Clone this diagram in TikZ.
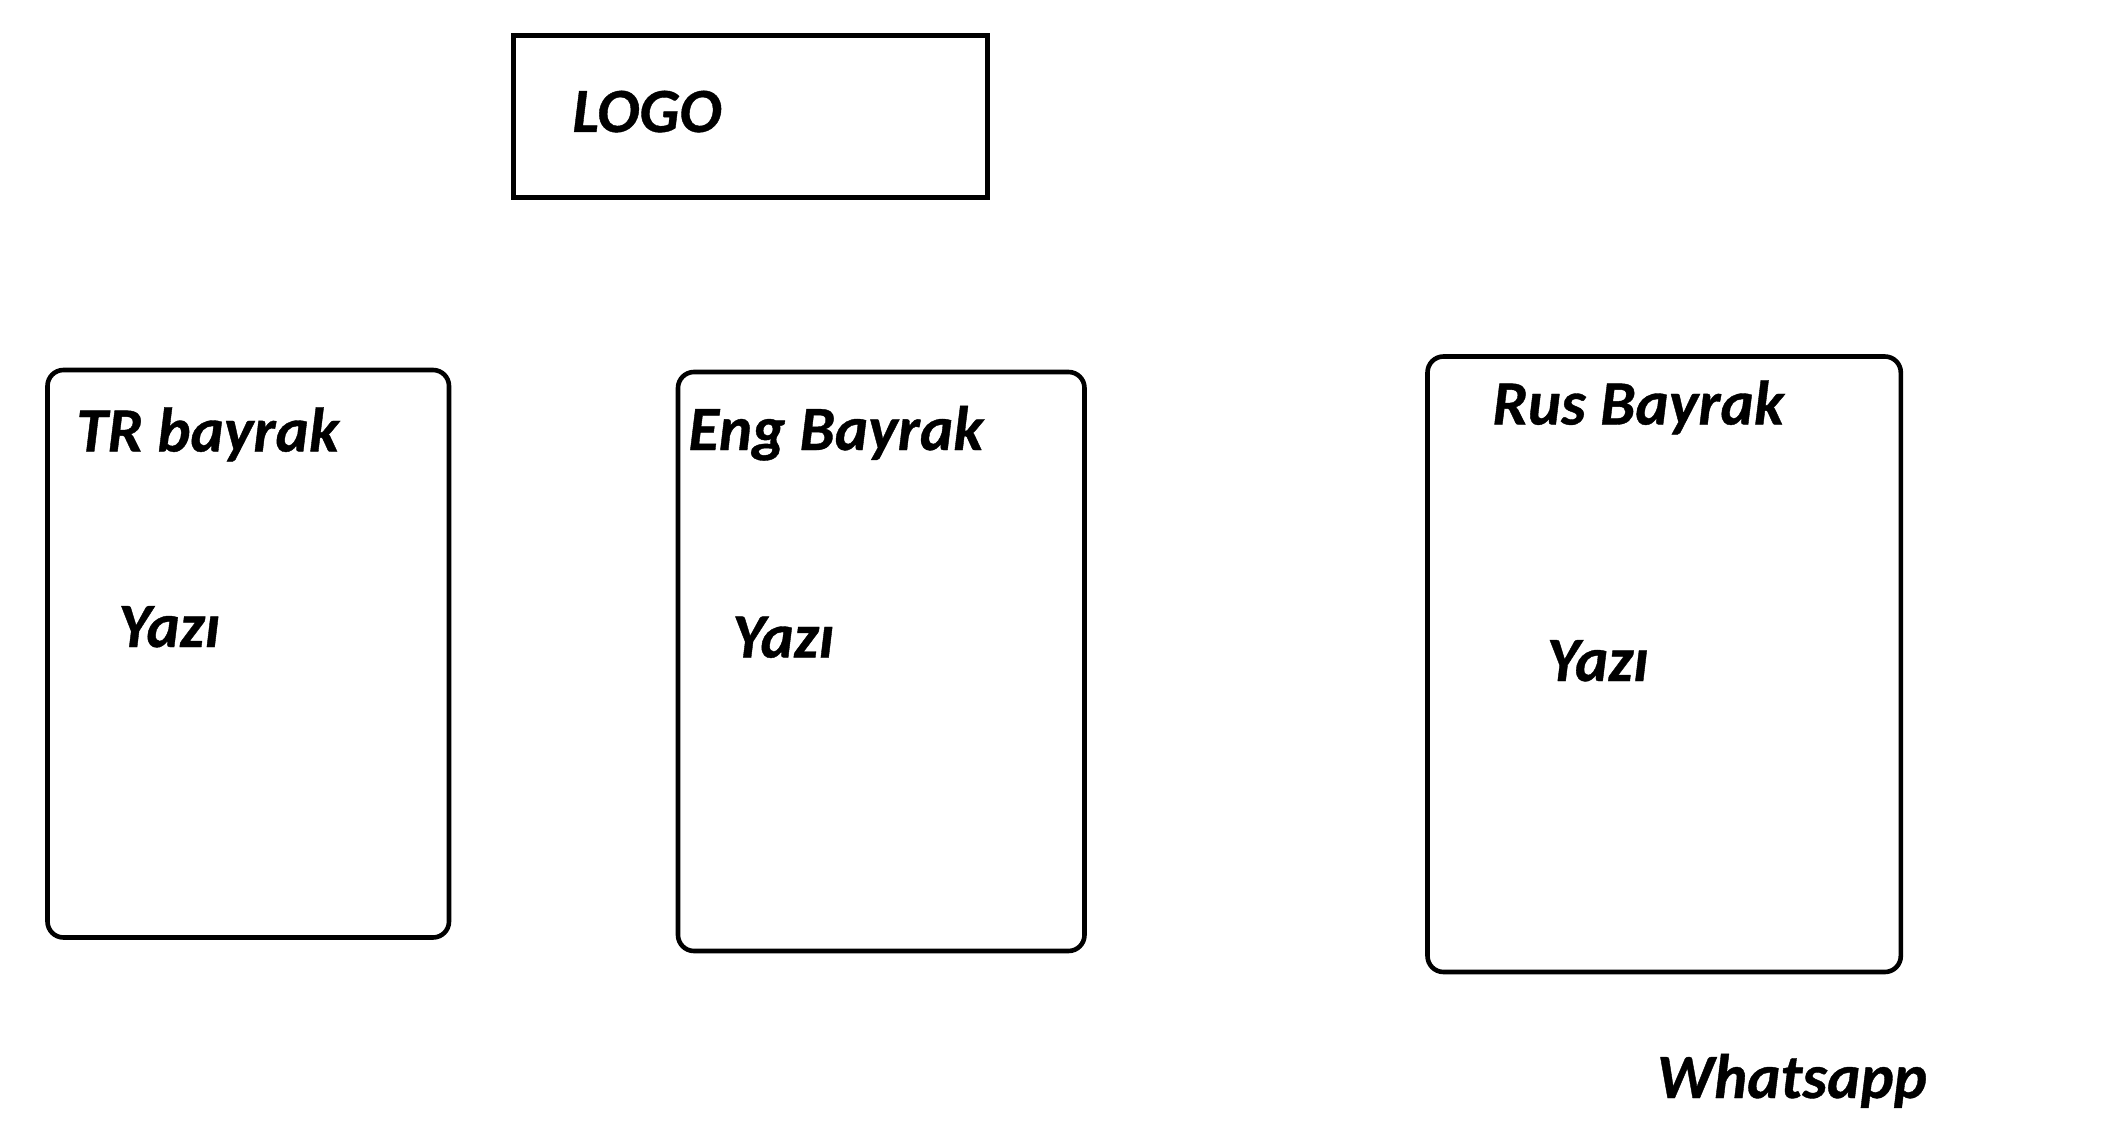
\documentclass[tikz,border=0pt]{standalone}
\usepackage{fontspec}
\setmainfont{Carlito}[BoldItalicFeatures={FakeBold=0.6}]
\tikzset{
  card/.style={line width=2.3pt, rounded corners=8pt},
  logobox/.style={line width=2.4pt},
  lbl/.style={anchor=base west, inner sep=0pt, font=\fontsize{31.5}{36}\selectfont\bfseries\itshape}
}
\begin{document}
\begin{tikzpicture}[x=0.5pt,y=-0.5pt]
    \useasboundingbox (0,0) rectangle (2115,1139);
    \coordinate (L1) at (513.5,35.5);
    \coordinate (L2) at (987.5,197.5);
    \coordinate (T1) at (47.5,370);
    \coordinate (T2) at (449,937.5);
    \coordinate (E1) at (678,372);
    \coordinate (E2) at (1084.5,951);
    \coordinate (R1) at (1427.5,356.5);
    \coordinate (R2) at (1900.8,972);
    \draw [logobox] (L1) rectangle (L2);
    \draw [card] (T1) rectangle (T2);
    \draw [card] (E1) rectangle (E2);
    \draw [card] (R1) rectangle (R2);
    \node [lbl] (logo)  at (572,132)   {LOGO};
    \node [lbl] (tr)    at (76,451.5)  {TR bayrak};
    \node [lbl] (tryazi) at (118,647)  {Yazı};
    \node [lbl] (eng)   at (688,450)   {Eng Bayrak};
    \node [lbl] (engyazi) at (732,657.5) {Yazı};
    \node [lbl] (rus)   at (1492,424.5)  {Rus Bayrak};
    \node [lbl] (rusyazi) at (1546.5,681) {Yazı};
    \node [lbl] (wa)    at (1656.5,1098) {Whatsapp};
\end{tikzpicture}
\end{document}
